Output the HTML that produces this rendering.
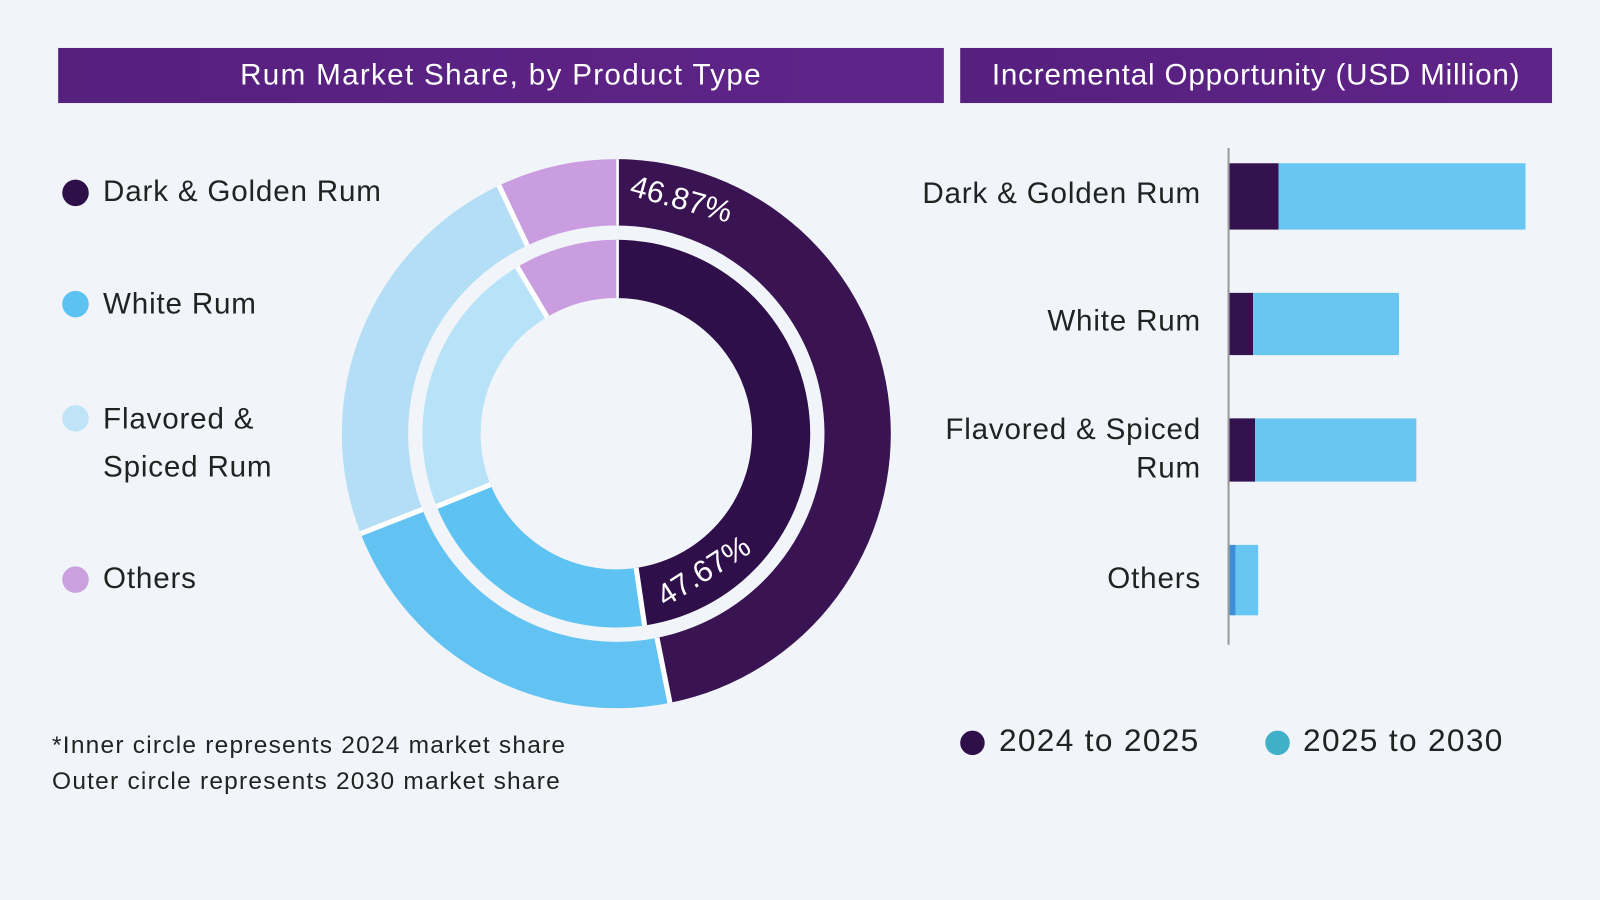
<!DOCTYPE html>
<html><head><meta charset="utf-8"><style>
body{margin:0;width:1600px;height:900px;background:#f1f5f9;font-family:"Liberation Sans",sans-serif;overflow:hidden;position:relative}
#wrap{position:absolute;left:0;top:0;width:1568px;height:882px;transform:scale(1.0204);transform-origin:0 0}
.banner{position:absolute;top:47px;height:54px;background:linear-gradient(90deg,#56207f,#5f2488);color:#fff;font-size:29px;letter-spacing:1.3px;display:flex;align-items:center;justify-content:center}
.t{position:absolute;color:#222;font-size:29px;white-space:nowrap;letter-spacing:0.8px}
.dot{position:absolute;width:26px;height:26px;border-radius:50%}
</style></head><body>
<div id="wrap">
<div class="banner" style="left:57px;width:868px">Rum Market Share, by Product Type</div>
<div class="banner" style="left:941px;width:580px;letter-spacing:0.8px">Incremental Opportunity (USD Million)</div>

<div class="dot" style="left:61px;top:176px;background:#2f0f4a"></div>
<div class="t" style="left:101px;top:172px">Dark &amp; Golden Rum</div>
<div class="dot" style="left:61px;top:285px;background:#5bc2f2"></div>
<div class="t" style="left:101px;top:282px">White Rum</div>
<div class="dot" style="left:61px;top:397px;background:#bfe4f8"></div>
<div class="t" style="left:101px;line-height:47px;top:388px">Flavored &amp;<br>Spiced Rum</div>
<div class="dot" style="left:61px;top:555px;background:#caa0df"></div>
<div class="t" style="left:101px;top:551px">Others</div>

<div class="t" style="left:51px;top:713px;font-size:24px;line-height:35px;letter-spacing:1.2px">*Inner circle represents 2024 market share<br>Outer circle represents 2030 market share</div>

<svg id="donut" width="1568" height="882" style="position:absolute;left:0;top:0"></svg>

<div class="t" style="right:391px;top:174px;text-align:right">Dark &amp; Golden Rum</div>
<div class="t" style="right:391px;top:299px;text-align:right">White Rum</div>
<div class="t" style="right:391px;top:402px;text-align:right;line-height:38px">Flavored &amp; Spiced<br>Rum</div>
<div class="t" style="right:391px;top:551px;text-align:right">Others</div>

<div class="dot" style="left:941px;top:716px;width:24px;height:24px;background:#2f0f4a"></div>
<div class="t" style="left:979px;top:708px;font-size:31px;letter-spacing:1.3px">2024 to 2025</div>
<div class="dot" style="left:1240px;top:716px;width:24px;height:24px;background:#3fb0c8"></div>
<div class="t" style="left:1277px;top:708px;font-size:31px;letter-spacing:1.3px">2025 to 2030</div>
</div>
<script>
const categories=["Dark & Golden Rum","White Rum","Flavored & Spiced Rum","Others"];
const inner2024=[47.67,21.2,22.6,8.53];
const outer2030=[46.87,22.2,23.9,7.03];
const showLabel=[true,false,false,false];
const inc2024=[48,23,25,6];
const inc2030=[242,143,158,22];
const NS="http://www.w3.org/2000/svg";
const svg=document.getElementById('donut');
const colorsOuter=["#3a1352","#62c3f2","#b4def5","#c99ddf"];
const colorsInner=["#2f0f4a","#5ec2f2","#b8e2f7","#c99ddf"];
const cx=604,cy=425;
function pt(r,a){return [cx+r*Math.sin(a),cy-r*Math.cos(a)];}
function ring(vals,r0,r1,name,lab,colors){
  const tot=vals.reduce((a,b)=>a+b,0);let a=0;
  vals.forEach((v,i)=>{
    const a2=a+v/tot*2*Math.PI;
    const [x1,y1]=pt(r1,a),[x2,y2]=pt(r1,a2),[x3,y3]=pt(r0,a2),[x4,y4]=pt(r0,a);
    const lg=(a2-a)>Math.PI?1:0;
    const p=document.createElementNS(NS,'path');
    p.setAttribute('d',`M${x1},${y1}A${r1},${r1} 0 ${lg} 1 ${x2},${y2}L${x3},${y3}A${r0},${r0} 0 ${lg} 0 ${x4},${y4}Z`);
    p.setAttribute('fill',colors[i]);
    
    
    svg.appendChild(p);
    const s=document.createElementNS(NS,'line');
    s.setAttribute('x1',x4);s.setAttribute('y1',y4);s.setAttribute('x2',x1);s.setAttribute('y2',y1);
    s.setAttribute('stroke','#fff');s.setAttribute('stroke-width','5');
    
    
    svg.appendChild(s);
    if(showLabel[i]){
      const t=document.createElementNS(NS,'text');
      const am=lab==='end'?a2-0.42:a+0.27;const rm=(r0+r1)/2;const [tx,ty]=pt(rm,am);
      t.setAttribute('x',tx);t.setAttribute('y',ty);t.setAttribute('fill','#fff');t.setAttribute('font-size','30');
      t.setAttribute('text-anchor','middle');t.setAttribute('dominant-baseline','middle');
      t.setAttribute('font-family','Liberation Sans, sans-serif');
      const rot=lab==='end'?(am*180/Math.PI-180):(am*180/Math.PI);
      t.setAttribute('transform',`rotate(${rot} ${tx} ${ty})`);
      t.textContent=v.toFixed(2)+'%';
      
      
      svg.appendChild(t);
    }
    a=a2;
  });
}
ring(outer2030,204,269,'outer','start',colorsOuter);
ring(inner2024,133,190,'inner','end',colorsInner);
const x0=1205,scale=1.0;
const barTop=[160,287,410,534],barH=[65,61,62,69];
const ax=document.createElementNS(NS,'line');
ax.setAttribute('x1',1204);ax.setAttribute('x2',1204);ax.setAttribute('y1',145);ax.setAttribute('y2',632);
ax.setAttribute('stroke','#999');ax.setAttribute('stroke-width','2');


svg.appendChild(ax);
categories.forEach((c,i)=>{
  const w1=inc2024[i]*scale,w2=inc2030[i]*scale;
  const r1=document.createElementNS(NS,'rect');
  r1.setAttribute('x',x0);r1.setAttribute('y',barTop[i]);r1.setAttribute('width',w1);r1.setAttribute('height',barH[i]);
  r1.setAttribute('fill',i===3?'#3a8fd8':'#34114f');
  
  
  svg.appendChild(r1);
  const r2=document.createElementNS(NS,'rect');
  r2.setAttribute('x',x0+w1);r2.setAttribute('y',barTop[i]);r2.setAttribute('width',w2);r2.setAttribute('height',barH[i]);
  r2.setAttribute('fill','#68c6f2');
  
  
  svg.appendChild(r2);
});
</script>
</body></html>
